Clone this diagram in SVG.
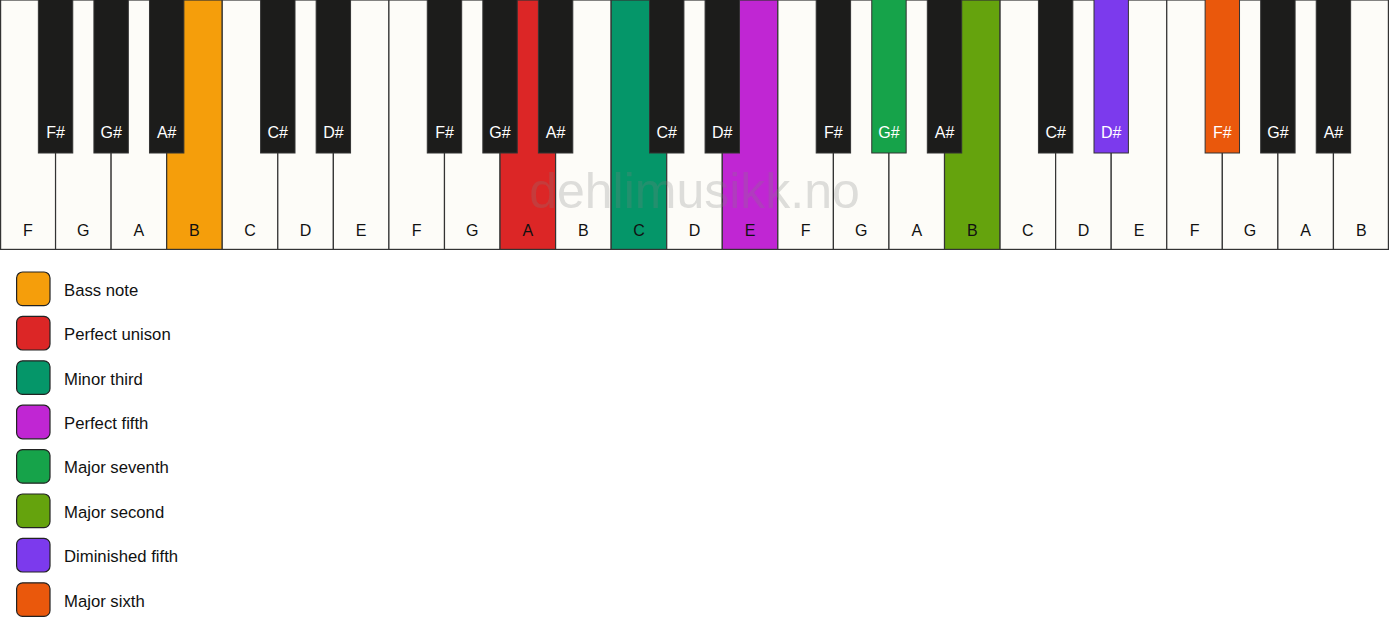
<svg xmlns="http://www.w3.org/2000/svg" width="1389" height="639" viewBox="0 0 1389 639">
<style>
.w{fill:#fdfcf8;stroke:#333;stroke-width:1.2}
.b{fill:#1c1c1b;stroke:#333;stroke-width:1}
.wl{font-family:"Liberation Sans",Arial,sans-serif;font-size:16px;fill:#111;text-anchor:middle}
.bl{font-family:"Liberation Sans",Arial,sans-serif;font-size:16px;fill:#fff;text-anchor:middle}
.lg{stroke:#222;stroke-width:1.2}
.lt{font-family:"Liberation Sans",Arial,sans-serif;font-size:16.7px;fill:#111}
</style>
<rect x="0" y="0" width="1389" height="639" fill="#ffffff"/>
<g id="white-keys">
<g id="wk-0"><rect class="w" x="0.6" y="0" width="54.96" height="249.4"/><text class="wl" x="27.78" y="236">F</text></g>
<g id="wk-1"><rect class="w" x="55.56" y="0" width="55.56" height="249.4"/><text class="wl" x="83.34" y="236">G</text></g>
<g id="wk-2"><rect class="w" x="111.12" y="0" width="55.56" height="249.4"/><text class="wl" x="138.9" y="236">A</text></g>
<g id="wk-3"><rect class="w" x="166.68" y="0" width="55.56" height="249.4" style="fill:#f59e0b"/><text class="wl" x="194.46" y="236">B</text></g>
<g id="wk-4"><rect class="w" x="222.24" y="0" width="55.56" height="249.4"/><text class="wl" x="250.02" y="236">C</text></g>
<g id="wk-5"><rect class="w" x="277.8" y="0" width="55.56" height="249.4"/><text class="wl" x="305.58" y="236">D</text></g>
<g id="wk-6"><rect class="w" x="333.36" y="0" width="55.56" height="249.4"/><text class="wl" x="361.14" y="236">E</text></g>
<g id="wk-7"><rect class="w" x="388.92" y="0" width="55.56" height="249.4"/><text class="wl" x="416.7" y="236">F</text></g>
<g id="wk-8"><rect class="w" x="444.48" y="0" width="55.56" height="249.4"/><text class="wl" x="472.26" y="236">G</text></g>
<g id="wk-9"><rect class="w" x="500.04" y="0" width="55.56" height="249.4" style="fill:#dc2626"/><text class="wl" x="527.82" y="236">A</text></g>
<g id="wk-10"><rect class="w" x="555.6" y="0" width="55.56" height="249.4"/><text class="wl" x="583.38" y="236">B</text></g>
<g id="wk-11"><rect class="w" x="611.16" y="0" width="55.56" height="249.4" style="fill:#059669"/><text class="wl" x="638.94" y="236">C</text></g>
<g id="wk-12"><rect class="w" x="666.72" y="0" width="55.56" height="249.4"/><text class="wl" x="694.5" y="236">D</text></g>
<g id="wk-13"><rect class="w" x="722.28" y="0" width="55.56" height="249.4" style="fill:#c026d3"/><text class="wl" x="750.06" y="236">E</text></g>
<g id="wk-14"><rect class="w" x="777.84" y="0" width="55.56" height="249.4"/><text class="wl" x="805.62" y="236">F</text></g>
<g id="wk-15"><rect class="w" x="833.4" y="0" width="55.56" height="249.4"/><text class="wl" x="861.18" y="236">G</text></g>
<g id="wk-16"><rect class="w" x="888.96" y="0" width="55.56" height="249.4"/><text class="wl" x="916.74" y="236">A</text></g>
<g id="wk-17"><rect class="w" x="944.52" y="0" width="55.56" height="249.4" style="fill:#65a30d"/><text class="wl" x="972.3" y="236">B</text></g>
<g id="wk-18"><rect class="w" x="1000.08" y="0" width="55.56" height="249.4"/><text class="wl" x="1027.86" y="236">C</text></g>
<g id="wk-19"><rect class="w" x="1055.64" y="0" width="55.56" height="249.4"/><text class="wl" x="1083.42" y="236">D</text></g>
<g id="wk-20"><rect class="w" x="1111.2" y="0" width="55.56" height="249.4"/><text class="wl" x="1138.98" y="236">E</text></g>
<g id="wk-21"><rect class="w" x="1166.76" y="0" width="55.56" height="249.4"/><text class="wl" x="1194.54" y="236">F</text></g>
<g id="wk-22"><rect class="w" x="1222.32" y="0" width="55.56" height="249.4"/><text class="wl" x="1250.1" y="236">G</text></g>
<g id="wk-23"><rect class="w" x="1277.88" y="0" width="55.56" height="249.4"/><text class="wl" x="1305.66" y="236">A</text></g>
<g id="wk-24"><rect class="w" x="1333.44" y="0" width="54.96" height="249.4"/><text class="wl" x="1361.22" y="236">B</text></g>
</g>
<text id="watermark" x="694.5" y="208" font-family="Liberation Sans,Arial,sans-serif" font-size="50" fill="#808080" fill-opacity="0.25" text-anchor="middle">dehlimusikk.no</text>
<g id="black-keys">
<g id="bk-1"><rect class="b" x="38.36" y="-1" width="34.4" height="154"/><text class="bl" x="55.56" y="138">F#</text></g>
<g id="bk-2"><rect class="b" x="93.92" y="-1" width="34.4" height="154"/><text class="bl" x="111.12" y="138">G#</text></g>
<g id="bk-3"><rect class="b" x="149.48" y="-1" width="34.4" height="154"/><text class="bl" x="166.68" y="138">A#</text></g>
<g id="bk-4"><rect class="b" x="260.6" y="-1" width="34.4" height="154"/><text class="bl" x="277.8" y="138">C#</text></g>
<g id="bk-5"><rect class="b" x="316.16" y="-1" width="34.4" height="154"/><text class="bl" x="333.36" y="138">D#</text></g>
<g id="bk-6"><rect class="b" x="427.28" y="-1" width="34.4" height="154"/><text class="bl" x="444.48" y="138">F#</text></g>
<g id="bk-7"><rect class="b" x="482.84" y="-1" width="34.4" height="154"/><text class="bl" x="500.04" y="138">G#</text></g>
<g id="bk-8"><rect class="b" x="538.4" y="-1" width="34.4" height="154"/><text class="bl" x="555.6" y="138">A#</text></g>
<g id="bk-9"><rect class="b" x="649.52" y="-1" width="34.4" height="154"/><text class="bl" x="666.72" y="138">C#</text></g>
<g id="bk-10"><rect class="b" x="705.08" y="-1" width="34.4" height="154"/><text class="bl" x="722.28" y="138">D#</text></g>
<g id="bk-11"><rect class="b" x="816.2" y="-1" width="34.4" height="154"/><text class="bl" x="833.4" y="138">F#</text></g>
<g id="bk-12"><rect class="b" x="871.76" y="-1" width="34.4" height="154" style="fill:#16a34a"/><text class="bl" x="888.96" y="138">G#</text></g>
<g id="bk-13"><rect class="b" x="927.32" y="-1" width="34.4" height="154"/><text class="bl" x="944.52" y="138">A#</text></g>
<g id="bk-14"><rect class="b" x="1038.44" y="-1" width="34.4" height="154"/><text class="bl" x="1055.64" y="138">C#</text></g>
<g id="bk-15"><rect class="b" x="1094" y="-1" width="34.4" height="154" style="fill:#7c3aed"/><text class="bl" x="1111.2" y="138">D#</text></g>
<g id="bk-16"><rect class="b" x="1205.12" y="-1" width="34.4" height="154" style="fill:#ea580c"/><text class="bl" x="1222.32" y="138">F#</text></g>
<g id="bk-17"><rect class="b" x="1260.68" y="-1" width="34.4" height="154"/><text class="bl" x="1277.88" y="138">G#</text></g>
<g id="bk-18"><rect class="b" x="1316.24" y="-1" width="34.4" height="154"/><text class="bl" x="1333.44" y="138">A#</text></g>
</g>
<g id="connectors"></g>
<g id="legend">
<g id="lg-bass"><rect class="lg" x="16.6" y="272" width="33.4" height="33.6" rx="6" fill="#f59e0b"/><text class="lt" x="64" y="295.7">Bass note</text></g>
<g id="lg-unison"><rect class="lg" x="16.6" y="316.4" width="33.4" height="33.6" rx="6" fill="#dc2626"/><text class="lt" x="64" y="340.1">Perfect unison</text></g>
<g id="lg-minor3"><rect class="lg" x="16.6" y="360.8" width="33.4" height="33.6" rx="6" fill="#059669"/><text class="lt" x="64" y="384.5">Minor third</text></g>
<g id="lg-fifth"><rect class="lg" x="16.6" y="405.2" width="33.4" height="33.6" rx="6" fill="#c026d3"/><text class="lt" x="64" y="428.9">Perfect fifth</text></g>
<g id="lg-maj7"><rect class="lg" x="16.6" y="449.6" width="33.4" height="33.6" rx="6" fill="#16a34a"/><text class="lt" x="64" y="473.3">Major seventh</text></g>
<g id="lg-maj2"><rect class="lg" x="16.6" y="494" width="33.4" height="33.6" rx="6" fill="#65a30d"/><text class="lt" x="64" y="517.7">Major second</text></g>
<g id="lg-dim5"><rect class="lg" x="16.6" y="538.4" width="33.4" height="33.6" rx="6" fill="#7c3aed"/><text class="lt" x="64" y="562.1">Diminished fifth</text></g>
<g id="lg-maj6"><rect class="lg" x="16.6" y="582.8" width="33.4" height="33.6" rx="6" fill="#ea580c"/><text class="lt" x="64" y="606.5">Major sixth</text></g>
</g>
</svg>
